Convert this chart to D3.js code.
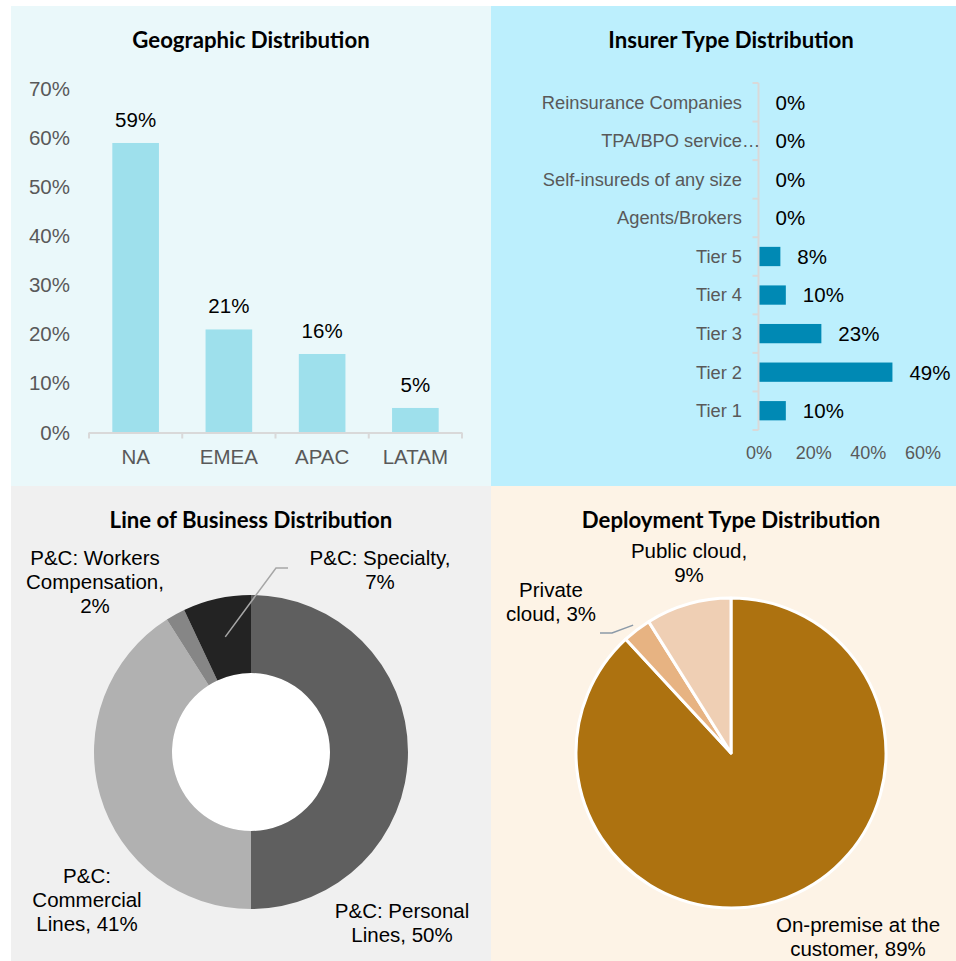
<!DOCTYPE html>
<html>
<head>
<meta charset="utf-8">
<script src="https://cdn.jsdelivr.net/npm/d3@7"></script>
<style>
  body { margin: 0; background: #fff; }
  svg { display: block; }
  .title { font-family: Lato, "Open Sans", sans-serif; font-weight: 700; fill: #000; }
  text { font-family: "Liberation Sans", Arial, sans-serif; }
</style>
</head>
<body>
<div id="chart"></div>
<script>
// ---- data ----
var geoRegions = ["NA", "EMEA", "APAC", "LATAM"];
var geoShares = [0.59, 0.21, 0.16, 0.05];
var geoTicks = [0, 0.1, 0.2, 0.3, 0.4, 0.5, 0.6, 0.7];

var insurerTypes = ["Reinsurance Companies", "TPA/BPO service\u2026", "Self-insureds of any size",
  "Agents/Brokers", "Tier 5", "Tier 4", "Tier 3", "Tier 2", "Tier 1"];
var insurerShares = [0, 0, 0, 0, 0.08, 0.10, 0.23, 0.49, 0.10];
var insurerTicks = [0, 0.2, 0.4, 0.6];

var lobNames = ["P&C: Personal\nLines", "P&C:\nCommercial\nLines", "P&C: Workers\nCompensation", "P&C: Specialty"];
var lobShares = [50, 41, 2, 7];

var deployNames = ["On-premise at the\ncustomer", "Private\ncloud", "Public cloud"];
var deployShares = [89, 3, 9];

// ---- layout ----
var width = 956, height = 961;
var pct = d3.format(".0%");

var svg = d3.select("#chart").append("svg")
    .attr("width", width)
    .attr("height", height);

var panels = [
  {x: 11, y: 6, w: 480, h: 480, fill: "#EAF8FA", title: "Geographic Distribution"},
  {x: 491, y: 6, w: 465, h: 480, fill: "#BCEFFD", title: "Insurer Type Distribution"},
  {x: 11, y: 486, w: 480, h: 475, fill: "#F0F0F0", title: "Line of Business Distribution"},
  {x: 491, y: 486, w: 465, h: 475, fill: "#FDF3E6", title: "Deployment Type Distribution"}
];

svg.selectAll("rect.panel")
    .data(panels)
  .enter().append("rect")
    .attr("class", "panel")
    .attr("x", function(d) { return d.x; })
    .attr("y", function(d) { return d.y; })
    .attr("width", function(d) { return d.w; })
    .attr("height", function(d) { return d.h; })
    .attr("fill", function(d) { return d.fill; });

var titleX = [251, 731, 251, 731], titleY = [48, 48, 528, 528];
svg.selectAll("text.title")
    .data(panels)
  .enter().append("text")
    .attr("class", "title")
    .attr("x", function(d, i) { return titleX[i]; })
    .attr("y", function(d, i) { return titleY[i]; })
    .attr("text-anchor", "middle")
    .style("font-size", "22.2px")
    .text(function(d) { return d.title; });

function bandEdges(scale) {
  var r = scale.range(), out = [];
  for (var i = 0; i <= scale.domain().length; i++) out.push(r[0] + i * scale.step());
  return out;
}

// ---- geographic bars ----
(function() {
  var g = svg.append("g");
  var x = d3.scaleBand().domain(geoRegions).range([89, 462]).paddingInner(0.5).paddingOuter(0.25);
  var y = d3.scaleLinear().domain([0, 0.7]).range([432.5, 89]);
  var rows = geoRegions.map(function(r, i) { return {name: r, value: geoShares[i]}; });

  var yAxis = g.append("g")
      .attr("transform", "translate(89,0)")
      .call(d3.axisLeft(y).tickValues(geoTicks).tickFormat(pct).tickSize(0).tickPadding(19));
  yAxis.select(".domain").remove();
  yAxis.selectAll("text").attr("fill", "#595959").style("font-size", "20.5px")
      .style("font-family", "Liberation Sans, Arial, sans-serif");

  g.selectAll("rect.bar")
      .data(rows)
    .enter().append("rect")
      .attr("class", "bar")
      .attr("x", function(d) { return x(d.name); })
      .attr("y", function(d) { return y(d.value); })
      .attr("width", x.bandwidth())
      .attr("height", function(d) { return y(0) - y(d.value); })
      .attr("fill", "#9EE0EC");

  g.append("line")
      .attr("x1", x.range()[0]).attr("x2", x.range()[1])
      .attr("y1", y(0) + 0.5).attr("y2", y(0) + 0.5)
      .attr("stroke", "#D9D9D9").attr("stroke-width", 2);
  g.selectAll("line.tick")
      .data(bandEdges(x))
    .enter().append("line")
      .attr("x1", function(d) { return d; }).attr("x2", function(d) { return d; })
      .attr("y1", y(0)).attr("y2", y(0) + 6)
      .attr("stroke", "#D9D9D9").attr("stroke-width", 2);

  var xAxis = g.append("g")
      .attr("transform", "translate(0," + y(0) + ")")
      .call(d3.axisBottom(x).tickSize(0).tickPadding(17));
  xAxis.select(".domain").remove();
  xAxis.selectAll("text").attr("fill", "#595959").style("font-size", "20.5px")
      .style("font-family", "Liberation Sans, Arial, sans-serif");

  g.selectAll("text.val")
      .data(rows)
    .enter().append("text")
      .attr("class", "val")
      .attr("x", function(d) { return x(d.name) + x.bandwidth() / 2; })
      .attr("y", function(d) { return y(d.value) - 16; })
      .attr("text-anchor", "middle")
      .style("font-size", "20.5px")
      .text(function(d) { return pct(d.value); });
})();

// ---- insurer type bars ----
(function() {
  var g = svg.append("g");
  var y = d3.scaleBand().domain(insurerTypes).range([83, 430]).paddingInner(0.5).paddingOuter(0.25);
  var x = d3.scaleLinear().domain([0, 0.6]).range([758.5, 922.5]);
  var rows = insurerTypes.map(function(t, i) { return {name: t, value: insurerShares[i]}; });

  g.selectAll("rect.bar")
      .data(rows)
    .enter().append("rect")
      .attr("class", "bar")
      .attr("x", x(0))
      .attr("y", function(d) { return y(d.name); })
      .attr("width", function(d) { return x(d.value) - x(0); })
      .attr("height", y.bandwidth())
      .attr("fill", "#0089B4");

  g.append("line")
      .attr("x1", x(0)).attr("x2", x(0))
      .attr("y1", y.range()[0]).attr("y2", y.range()[1])
      .attr("stroke", "#D9D9D9").attr("stroke-width", 2);
  g.selectAll("line.tick")
      .data(bandEdges(y))
    .enter().append("line")
      .attr("x1", x(0) - 6).attr("x2", x(0))
      .attr("y1", function(d) { return d; }).attr("y2", function(d) { return d; })
      .attr("stroke", "#D9D9D9").attr("stroke-width", 2);

  // category labels; a trailing ellipsis hangs past the label edge
  g.selectAll("text.cat")
      .data(rows)
    .enter().append("text")
      .attr("class", "cat")
      .attr("x", x(0) - 16.5)
      .attr("y", function(d) { return y(d.name) + y.bandwidth() / 2; })
      .attr("dy", "0.35em")
      .attr("text-anchor", "end")
      .attr("fill", "#595959")
      .style("font-size", "18.3px")
      .text(function(d) { return d.name.replace("\u2026", ""); });
  g.selectAll("text.ell")
      .data(rows.filter(function(d) { return d.name.indexOf("\u2026") >= 0; }))
    .enter().append("text")
      .attr("class", "ell")
      .attr("x", x(0) - 16.5)
      .attr("y", function(d) { return y(d.name) + y.bandwidth() / 2; })
      .attr("dy", "0.35em")
      .attr("fill", "#595959")
      .style("font-size", "18.3px")
      .text("\u2026");

  var xAxis = g.append("g")
      .attr("transform", "translate(0," + y.range()[1] + ")")
      .call(d3.axisBottom(x).tickValues(insurerTicks).tickFormat(pct).tickSize(0).tickPadding(16));
  xAxis.select(".domain").remove();
  xAxis.selectAll("text").attr("fill", "#595959").style("font-size", "18px")
      .style("font-family", "Liberation Sans, Arial, sans-serif");

  g.selectAll("text.val")
      .data(rows)
    .enter().append("text")
      .attr("class", "val")
      .attr("x", function(d) { return x(d.value) + 17; })
      .attr("y", function(d) { return y(d.name) + y.bandwidth() / 2; })
      .attr("dy", "0.36em")
      .style("font-size", "20.5px")
      .text(function(d) { return pct(d.value); });
})();

function multiLine(sel, lines, lineH) {
  lines.forEach(function(l, i) {
    sel.append("tspan").attr("x", 0).attr("dy", i ? lineH : 0).text(l);
  });
}

// ---- line of business donut ----
(function() {
  var cx = 251, cy = 752;
  var g = svg.append("g").attr("transform", "translate(" + cx + "," + cy + ")");
  var colors = ["#5F5F5F", "#B1B1B1", "#868686", "#232323"];
  var seps = [", ", ", ", ",\n", ",\n"];
  // label anchor (centre of first baseline) relative to the donut centre
  var labelPos = [[151, 166], [-164, 131], [-156, -187], [129, -187]];
  var rows = lobNames.map(function(n, i) { return {name: n, value: lobShares[i]}; });

  var pie = d3.pie().sort(null).value(function(d) { return d.value; });
  var arc = d3.arc().innerRadius(79).outerRadius(157);
  var arcs = pie(rows);

  g.append("circle").attr("r", 79).attr("fill", "#fff");

  g.selectAll("path")
      .data(arcs)
    .enter().append("path")
      .attr("d", arc)
      .attr("fill", function(d, i) { return colors[i]; });

  // leader for the specialty slice
  var c = arc.centroid(arcs[3]);
  g.append("path")
      .attr("d", d3.line()([[c[0], c[1]], [25, -184], [37, -184]]))
      .attr("fill", "none")
      .attr("stroke", "#A6A6A6")
      .attr("stroke-width", 1.5);

  arcs.forEach(function(d, i) {
    var t = g.append("text")
        .attr("transform", "translate(" + labelPos[i][0] + "," + labelPos[i][1] + ")")
        .attr("text-anchor", "middle")
        .style("font-size", "20.5px");
    multiLine(t, (d.data.name + seps[i] + d.data.value + "%").split("\n"), 24);
  });
})();

// ---- deployment pie ----
(function() {
  var cx = 731, cy = 753;
  var g = svg.append("g").attr("transform", "translate(" + cx + "," + cy + ")");
  var colors = ["#AD7210", "#E7B382", "#EFCFB4"];
  var seps = [", ", ", ", ",\n"];
  var labelPos = [[127, 179], [-180, -156], [-42, -195]];
  var rows = deployNames.map(function(n, i) { return {name: n, value: deployShares[i]}; });

  var pie = d3.pie().sort(null).value(function(d) { return d.value; });
  var arc = d3.arc().innerRadius(0).outerRadius(155);
  var arcs = pie(rows);

  g.selectAll("path")
      .data(arcs)
    .enter().append("path")
      .attr("d", arc)
      .attr("fill", function(d, i) { return colors[i]; })
      .attr("stroke", "#fff")
      .attr("stroke-width", 3)
      .attr("stroke-linejoin", "round");

  // leader for the private cloud slice
  var edge = d3.arc().innerRadius(161).outerRadius(161).centroid(arcs[1]);
  g.append("path")
      .attr("d", d3.line()([[-131, -120], [-119, -120], edge]))
      .attr("fill", "none")
      .attr("stroke", "#8C9AA8")
      .attr("stroke-width", 1.5);

  arcs.forEach(function(d, i) {
    var t = g.append("text")
        .attr("transform", "translate(" + labelPos[i][0] + "," + labelPos[i][1] + ")")
        .attr("text-anchor", "middle")
        .style("font-size", "20.5px");
    multiLine(t, (d.data.name + seps[i] + d.data.value + "%").split("\n"), 24);
  });
})();
</script>
</body>
</html>
